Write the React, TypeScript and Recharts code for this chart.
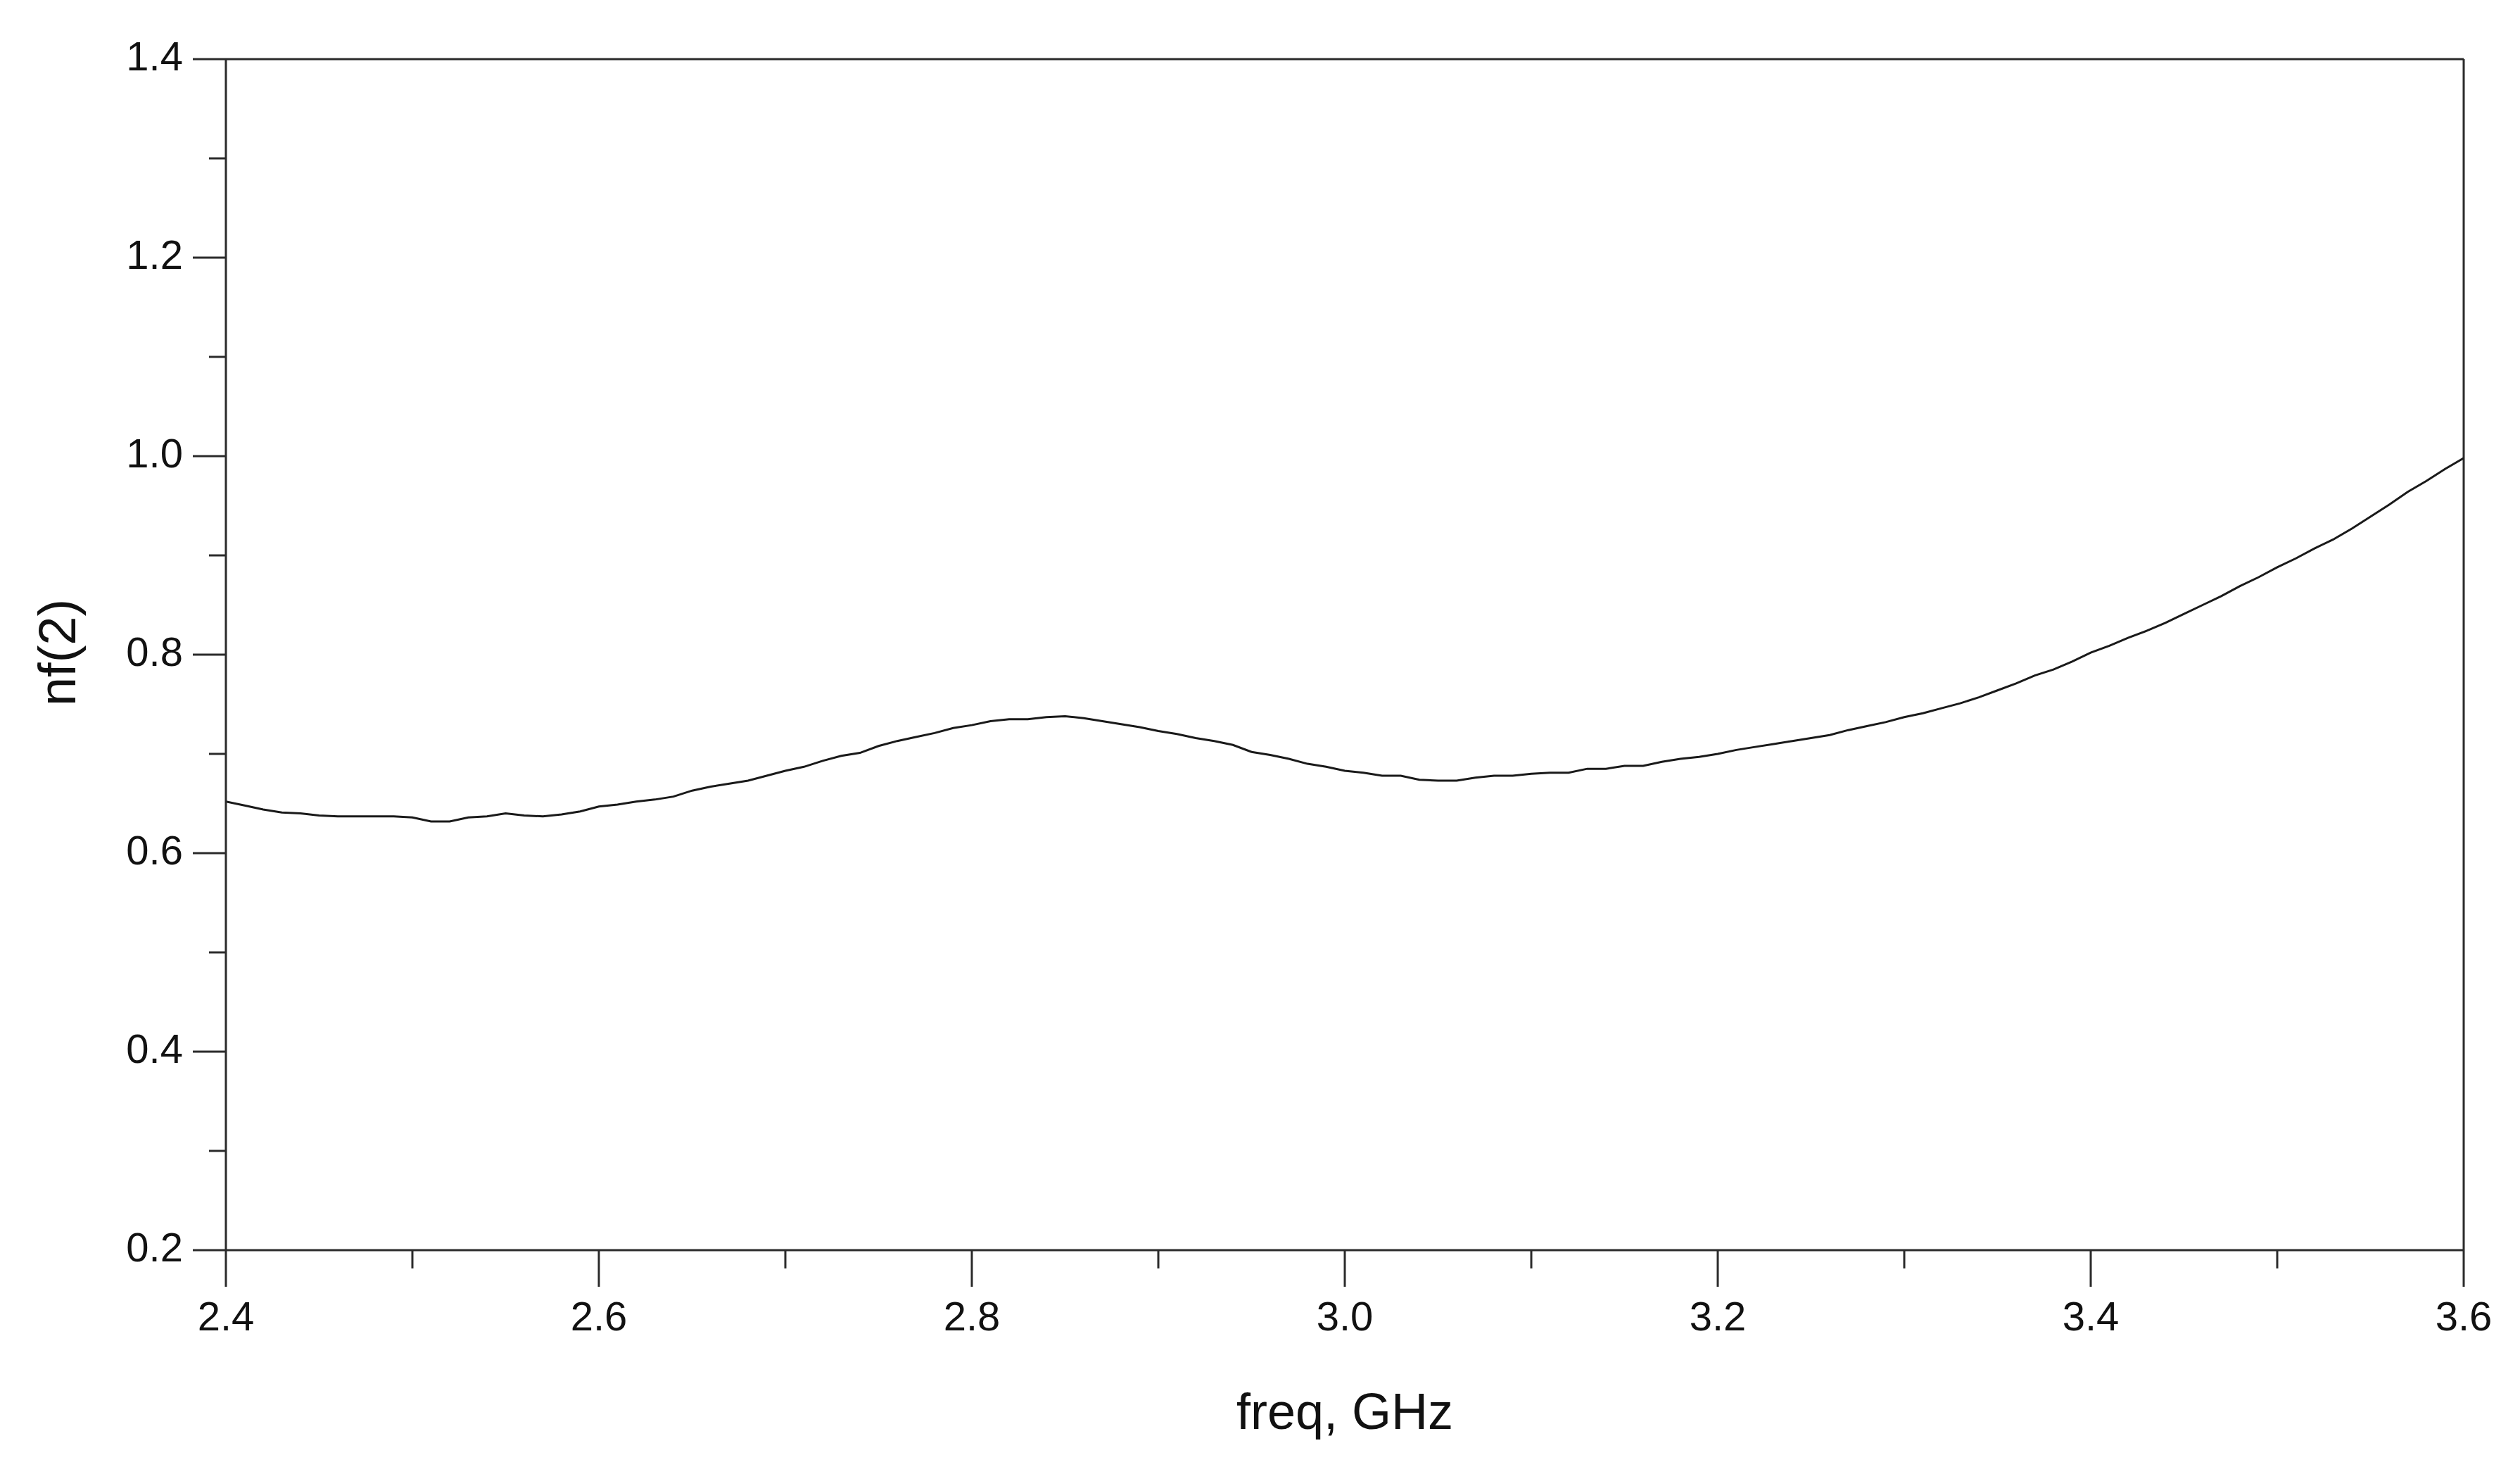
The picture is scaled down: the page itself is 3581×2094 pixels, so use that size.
import { LineChart, Line, XAxis, YAxis, ReferenceLine, Label } from "recharts";

// freq sweep (GHz) and nf(2)
const freqGHz = [
  2.4, 2.41, 2.42, 2.43, 2.44, 2.45, 2.46, 2.47, 2.48, 2.49,
  2.5, 2.51, 2.52, 2.53, 2.54, 2.55, 2.56, 2.57, 2.58, 2.59,
  2.6, 2.61, 2.62, 2.63, 2.64, 2.65, 2.66, 2.67, 2.68, 2.69,
  2.7, 2.71, 2.72, 2.73, 2.74, 2.75, 2.76, 2.77, 2.78, 2.79,
  2.8, 2.81, 2.82, 2.83, 2.84, 2.85, 2.86, 2.87, 2.88, 2.89,
  2.9, 2.91, 2.92, 2.93, 2.94, 2.95, 2.96, 2.97, 2.98, 2.99,
  3.0, 3.01, 3.02, 3.03, 3.04, 3.05, 3.06, 3.07, 3.08, 3.09,
  3.1, 3.11, 3.12, 3.13, 3.14, 3.15, 3.16, 3.17, 3.18, 3.19,
  3.2, 3.21, 3.22, 3.23, 3.24, 3.25, 3.26, 3.27, 3.28, 3.29,
  3.3, 3.31, 3.32, 3.33, 3.34, 3.35, 3.36, 3.37, 3.38, 3.39,
  3.4, 3.41, 3.42, 3.43, 3.44, 3.45, 3.46, 3.47, 3.48, 3.49,
  3.5, 3.51, 3.52, 3.53, 3.54, 3.55, 3.56, 3.57, 3.58, 3.59,
  3.6,
];

const nf2 = [
  0.652, 0.648, 0.644, 0.641, 0.640, 0.638, 0.637, 0.637, 0.637, 0.637,
  0.636, 0.632, 0.632, 0.636, 0.637, 0.640, 0.638, 0.637, 0.639, 0.642,
  0.647, 0.649, 0.652, 0.654, 0.657, 0.663, 0.667, 0.670, 0.673, 0.678,
  0.683, 0.687, 0.693, 0.698, 0.701, 0.708, 0.713, 0.717, 0.721, 0.726,
  0.729, 0.733, 0.735, 0.735, 0.737, 0.738, 0.736, 0.733, 0.730, 0.727,
  0.723, 0.720, 0.716, 0.713, 0.709, 0.702, 0.699, 0.695, 0.690, 0.687,
  0.683, 0.681, 0.678, 0.678, 0.674, 0.673, 0.673, 0.676, 0.678, 0.678,
  0.680, 0.681, 0.681, 0.685, 0.685, 0.688, 0.688, 0.692, 0.695, 0.697,
  0.700, 0.704, 0.707, 0.710, 0.713, 0.716, 0.719, 0.724, 0.728, 0.732,
  0.737, 0.741, 0.746, 0.751, 0.757, 0.764, 0.771, 0.779, 0.785, 0.793,
  0.802, 0.809, 0.817, 0.824, 0.832, 0.841, 0.850, 0.859, 0.869, 0.878,
  0.888, 0.897, 0.907, 0.916, 0.927, 0.939, 0.951, 0.964, 0.975, 0.987,
  0.998,
];

const xTicks = [2.4, 2.5, 2.6, 2.7, 2.8, 2.9, 3.0, 3.1, 3.2, 3.3, 3.4, 3.5, 3.6];
const xLabels = [2.4, 2.6, 2.8, 3.0, 3.2, 3.4, 3.6];
const yTicks = [0.2, 0.3, 0.4, 0.5, 0.6, 0.7, 0.8, 0.9, 1.0, 1.1, 1.2, 1.3, 1.4];
const yLabels = [0.2, 0.4, 0.6, 0.8, 1.0, 1.2, 1.4];

const data = freqGHz.map((f, i) => ({ freq: f, nf: nf2[i] }));

const AXIS = "#2b2b2b";
const FONT = "'Liberation Sans', Arial, sans-serif";

const isIn = (list: number[], v: number) => list.some((t) => Math.abs(t - v) < 1e-6);

const XTick = (props: any) => {
  const { x, y, payload } = props;
  const major = isIn(xLabels, payload.value);
  return (
    <g>
      <line x1={x} x2={x} y1={y} y2={y + (major ? 52 : 26)} stroke={AXIS} strokeWidth={3} />
      {major && (
        <text x={x} y={y + 114} textAnchor="middle" fontSize={58} fontFamily={FONT} fill="#111">
          {payload.value.toFixed(1)}
        </text>
      )}
    </g>
  );
};

const YTick = (props: any) => {
  const { x, y, payload } = props;
  const major = isIn(yLabels, payload.value);
  return (
    <g>
      <line x1={x - (major ? 47 : 24)} x2={x} y1={y} y2={y} stroke={AXIS} strokeWidth={3} />
      {major && (
        <text x={x - 61} y={y + 16} textAnchor="end" fontSize={58} fontFamily={FONT} fill="#111">
          {payload.value.toFixed(1)}
        </text>
      )}
    </g>
  );
};

const App = () => {
  return (
    <div style={{ position: "absolute", left: 0, top: 0, background: "#fff" }}>
      <LineChart width={3581} height={2094} data={data} margin={{ top: 84, right: 80, left: 0, bottom: 0 }}>
        <XAxis
          dataKey="freq"
          type="number"
          domain={[2.4, 3.6]}
          ticks={xTicks}
          interval={0}
          allowDataOverflow
          height={318}
          tickSize={0}
          tickMargin={0}
          tickLine={false}
          axisLine={{ stroke: AXIS, strokeWidth: 3 }}
          tick={<XTick />}
        >
          <Label
            content={(p: any) => {
              const vb = p.viewBox;
              return (
                <text x={vb.x + vb.width / 2} y={vb.y + 254} textAnchor="middle" fontSize={72} fontFamily={FONT} fill="#111">
                  freq, GHz
                </text>
              );
            }}
          />
        </XAxis>
        <YAxis
          type="number"
          domain={[0.2, 1.4]}
          ticks={yTicks}
          interval={0}
          allowDataOverflow
          width={321}
          tickSize={0}
          tickMargin={0}
          tickLine={false}
          axisLine={{ stroke: AXIS, strokeWidth: 3 }}
          tick={<YTick />}
        >
          <Label
            content={(p: any) => {
              const vb = p.viewBox;
              const cy = vb.y + vb.height / 2 - 3;
              return (
                <text
                  x={107}
                  y={cy}
                  transform={`rotate(-90, 107, ${cy})`}
                  textAnchor="middle"
                  fontSize={74}
                  fontFamily={FONT}
                  fill="#111"
                >
                  nf(2)
                </text>
              );
            }}
          />
        </YAxis>
        <ReferenceLine y={1.4} stroke={AXIS} strokeWidth={3} />
        <ReferenceLine x={3.6} stroke={AXIS} strokeWidth={3} />
        <Line
          type="linear"
          dataKey="nf"
          stroke="#1a1a1a"
          strokeWidth={3}
          dot={false}
          isAnimationActive={false}
        />
      </LineChart>
    </div>
  );
};

export default App;
